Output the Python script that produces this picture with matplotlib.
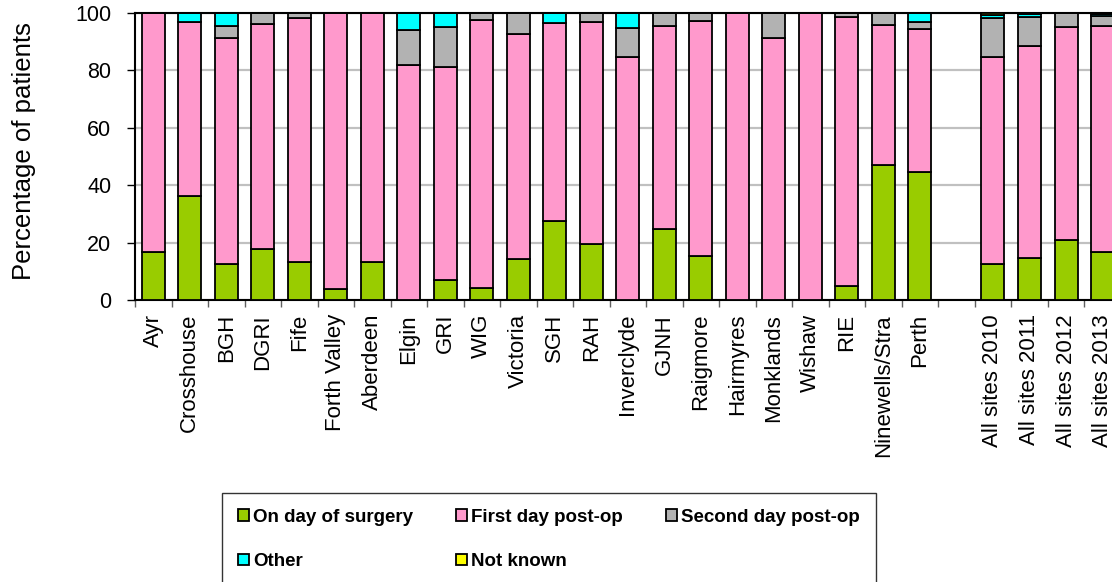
import numpy as np
import matplotlib.pyplot as plt
from matplotlib.patches import Patch
from matplotlib.ticker import FixedLocator

plt.rcParams['font.family'] = ['Liberation Sans', 'DejaVu Sans']

# sites, then a gap, then the all-site yearly totals
sites = ['Ayr', 'Crosshouse', 'BGH', 'DGRI', 'Fife', 'Forth Valley', 'Aberdeen',
         'Elgin', 'GRI', 'WIG', 'Victoria', 'SGH', 'RAH', 'Inverclyde', 'GJNH',
         'Raigmore', 'Hairmyres', 'Monklands', 'Wishaw', 'RIE', 'Ninewells/Stra',
         'Perth', '', 'All sites 2010', 'All sites 2011', 'All sites 2012',
         'All sites 2013']

on_day = [16.6, 36.3, 12.4, 17.7, 13.1, 3.8, 13.3, 0.0, 7.0, 4.1, 14.3, 27.5,
          19.4, 0.0, 24.6, 15.3, 0.0, 0.0, 0.0, 5.0, 47.2, 44.6, 0,
          12.4, 14.5, 20.9, 16.8]
first_day = [83.4, 60.5, 78.9, 78.5, 85.1, 96.2, 86.7, 82.0, 74.1, 93.6, 78.4,
             68.9, 77.6, 84.8, 70.8, 81.8, 100.0, 91.2, 100.0, 93.5, 48.7,
             49.7, 0, 72.4, 74.1, 74.3, 78.8]
second_day = [0.0, 0.0, 4.2, 3.8, 1.8, 0.0, 0.0, 12.1, 13.9, 2.3, 7.3, 0.0,
              3.0, 10.0, 4.6, 2.9, 0.0, 8.8, 0.0, 1.5, 4.1, 2.6, 0,
              13.5, 10.1, 4.8, 3.3]
other = [0.0, 3.2, 4.5, 0.0, 0.0, 0.0, 0.0, 5.9, 5.0, 0.0, 0.0, 3.6, 0.0,
         5.2, 0.0, 0.0, 0.0, 0.0, 0.0, 0.0, 0.0, 3.1, 0,
         1.0, 0.8, 0.0, 0.7]
not_known = [0.0] * 22 + [0] + [0.7, 0.5, 0.0, 0.4]

series = [
    ('On day of surgery', on_day, '#99CC00'),
    ('First day post-op', first_day, '#FF99CC'),
    ('Second day post-op', second_day, '#B2B2B2'),
    ('Other', other, '#00FFFF'),
    ('Not known', not_known, '#FFFF00'),
]

fig = plt.figure(figsize=(11.12, 5.82), dpi=100)
ax = fig.add_axes([0.1214, 0.4845, 0.8865, 0.4932])

x = np.arange(len(sites))
keep = np.array([s != '' for s in sites])
bottom = np.zeros(len(sites))
handles = []
for name, vals, col in series:
    vals = np.array(vals, dtype=float)
    ax.bar(x[keep], vals[keep], 0.63, bottom=bottom[keep], color=col,
           edgecolor='black', linewidth=1.3, zorder=3)
    bottom += vals
    handles.append(Patch(facecolor=col, edgecolor='black', linewidth=1.3, label=name))

ax.set_xlim(-0.5, len(sites) - 0.5)
ax.set_ylim(0, 100)
ax.set_yticks(range(0, 101, 20))
ax.yaxis.grid(True, color='#C0C0C0', linewidth=1.6, zorder=0)
ax.set_axisbelow(True)

ax.set_xticks(x)
ax.set_xticklabels(sites, rotation=90, fontsize=16)
ax.tick_params(axis='x', which='major', length=0, pad=10)
ax.xaxis.set_minor_locator(FixedLocator(np.arange(-0.5, len(sites), 1.0)))
ax.tick_params(axis='x', which='minor', length=5, color='#606060', width=1)
ax.tick_params(axis='y', labelsize=15.5, length=6, width=1, direction='out', pad=11)

for side in ['left', 'bottom', 'top']:
    ax.spines[side].set_linewidth(1.5)
ax.spines['right'].set_visible(False)

ax.set_ylabel('Percentage of patients', fontsize=18.5)
ax.yaxis.set_label_coords(-0.100, 0.52)

# legend reads row by row: reorder for matplotlib's column-major fill
order = [0, 3, 1, 4, 2]
leg = fig.legend([handles[i] for i in order], [handles[i].get_label() for i in order],
                 ncol=3, loc='upper left', bbox_to_anchor=(222 / 1112, 1 - 493 / 582),
                 borderaxespad=0, frameon=True, fancybox=False, edgecolor='black',
                 prop={'weight': 'bold', 'size': 13.5},
                 handlelength=0.6, handleheight=0.6, handletextpad=0.2,
                 columnspacing=2.3, labelspacing=1.45, borderpad=0.85)
leg.get_frame().set_linewidth(1.0)

fig.savefig('out.png', dpi=100)
